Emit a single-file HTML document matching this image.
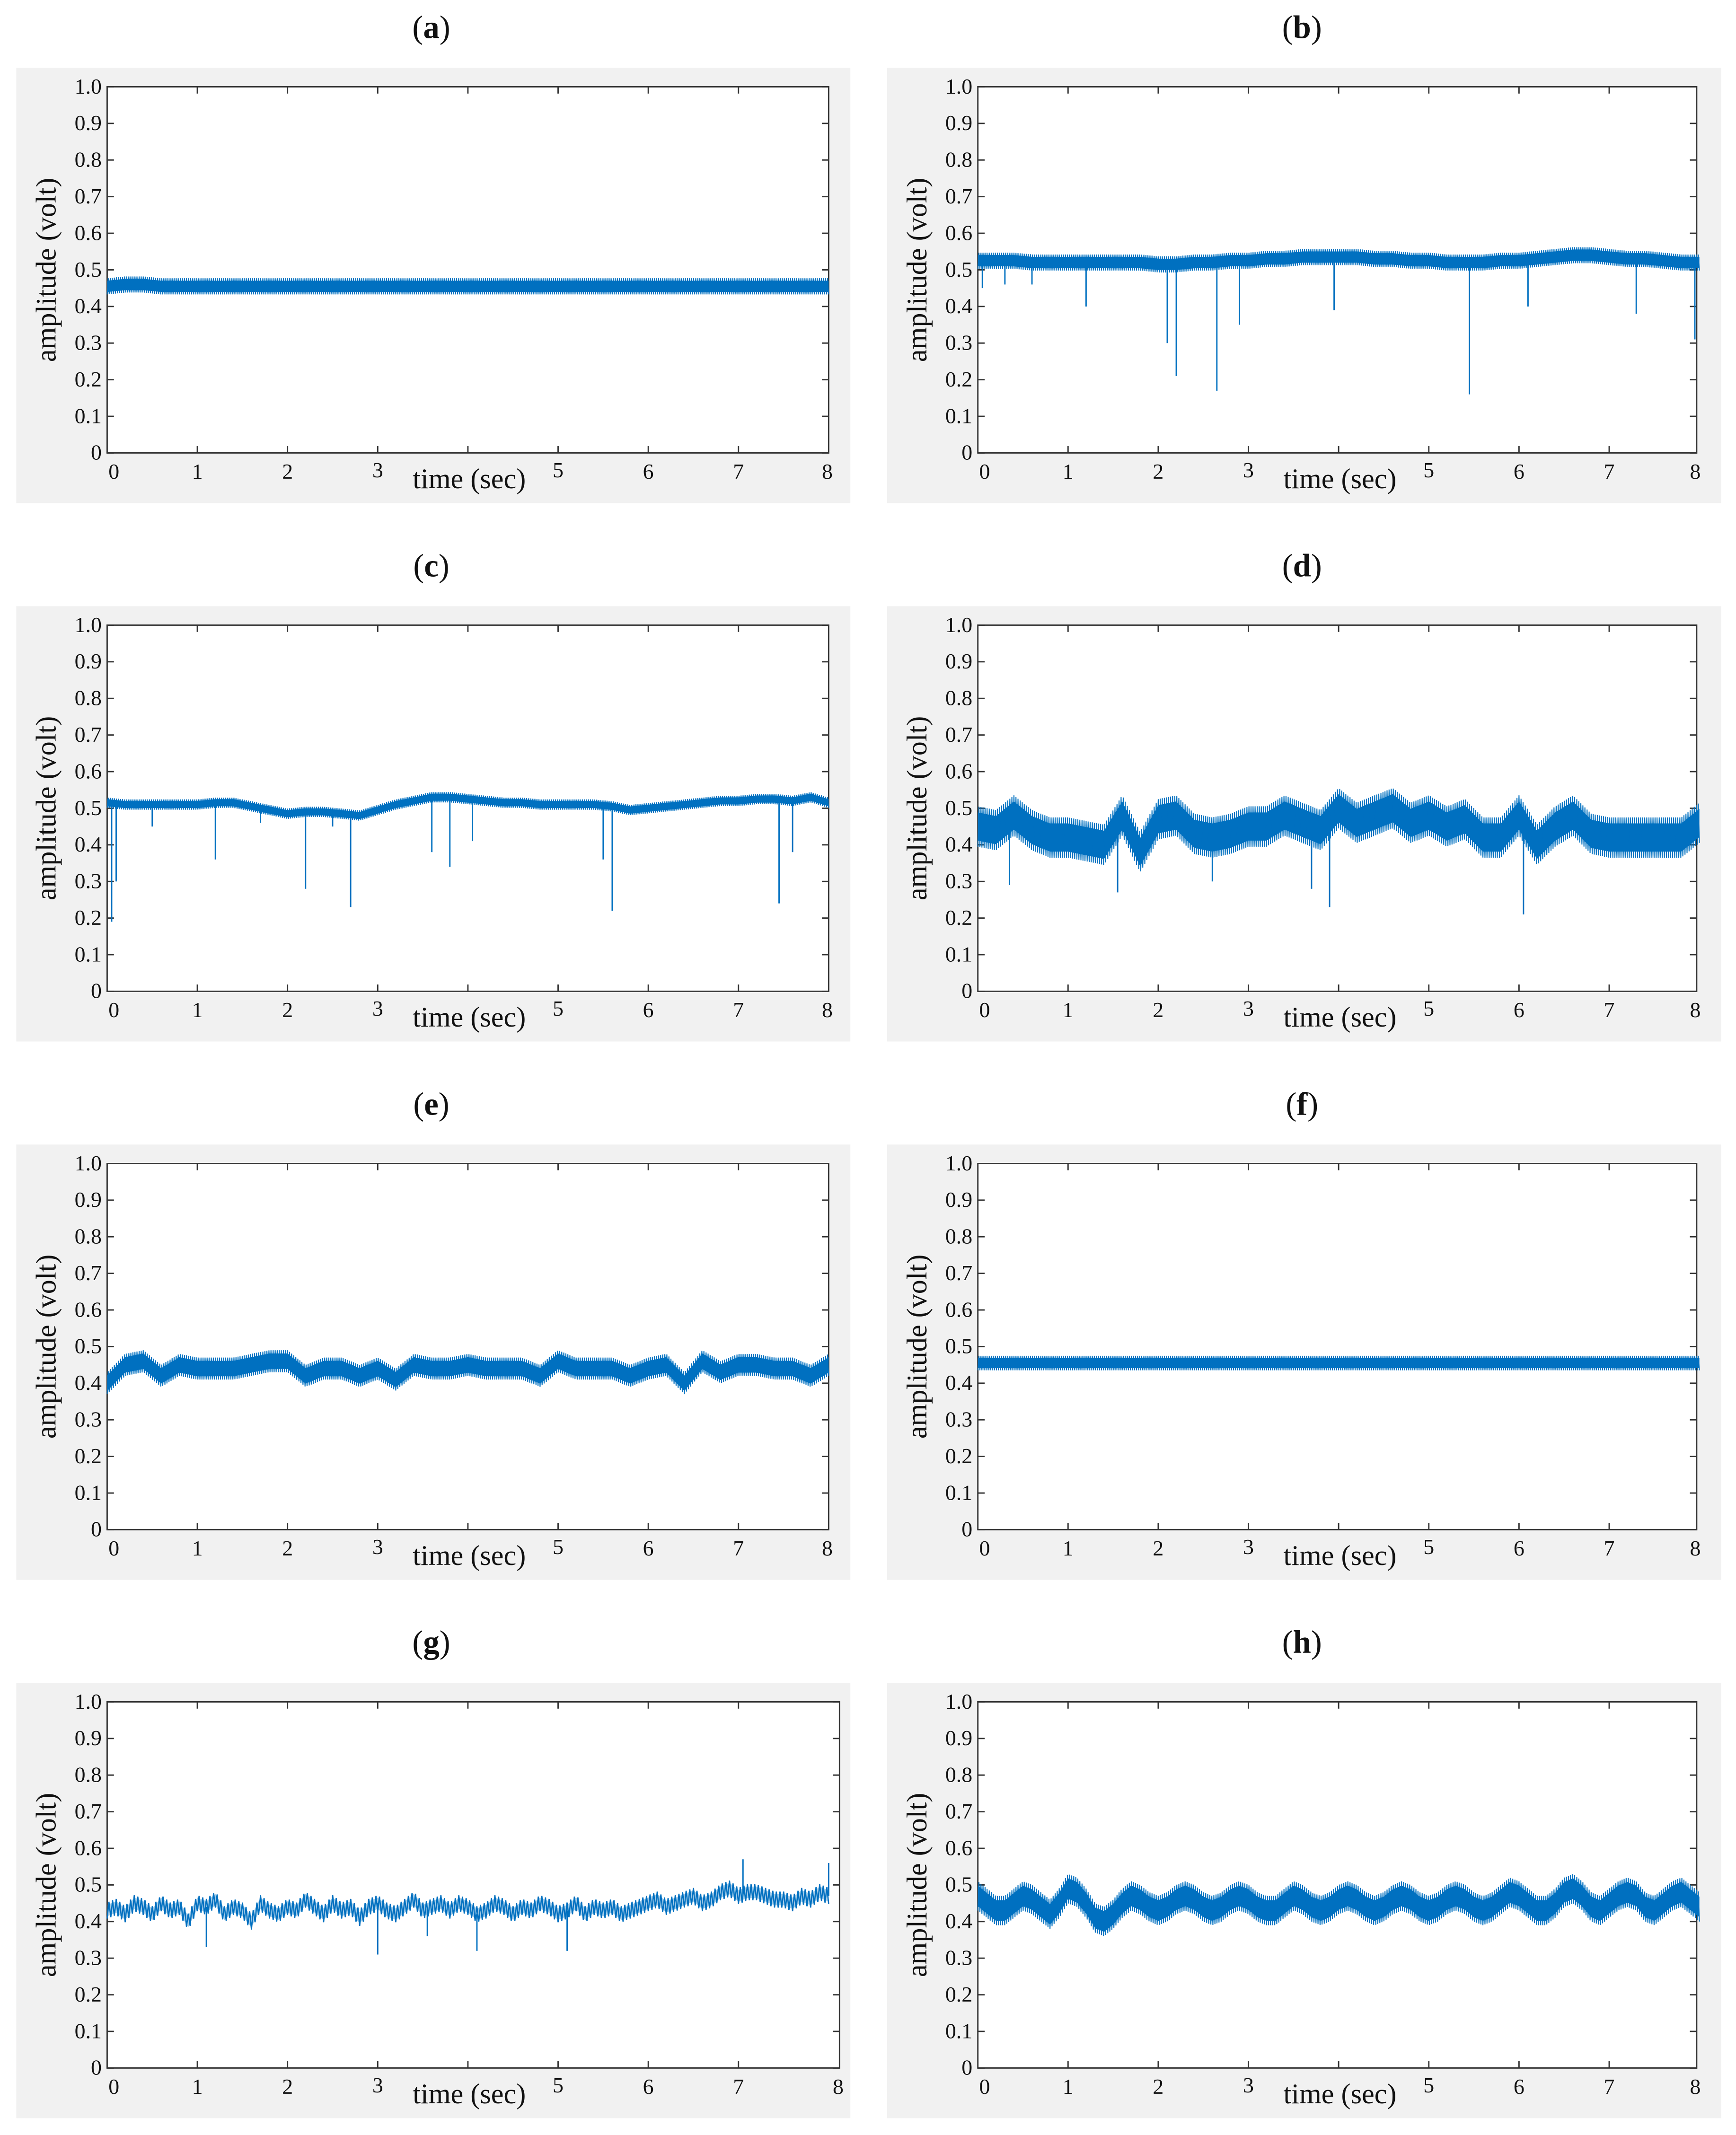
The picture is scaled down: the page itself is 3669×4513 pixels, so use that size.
<!DOCTYPE html>
<html><head><meta charset="utf-8">
<style>
html,body{margin:0;padding:0;background:#fff;}
svg{display:block;}
text{font-family:"Liberation Serif",serif;fill:#111;}
</style></head>
<body>
<svg id="fig" width="3669" height="4513" viewBox="0 0 1280 1574.4" preserveAspectRatio="none" xmlns="http://www.w3.org/2000/svg"></svg>
<script>
// ---- data ----
const panelLabels = ["a","b","c","d","e","f","g","h"];
const yTicks = [0,0.1,0.2,0.3,0.4,0.5,0.6,0.7,0.8,0.9,1.0];
const yTickLabels = ["0","0.1","0.2","0.3","0.4","0.5","0.6","0.7","0.8","0.9","1.0"];
const xTicks = [0,1,2,3,5,6,7,8];
const xTickLabels = ["0","1","2","3","5","6","7","8"];
// center values at 0.2 s steps (41 values)
const centerA = [0.455,0.46,0.46,0.455,0.455,0.455,0.455,0.455,0.455,0.455,0.455,0.455,0.455,0.455,0.455,0.455,0.455,0.455,0.455,0.455,0.455,0.455,0.455,0.455,0.455,0.455,0.455,0.455,0.455,0.455,0.455,0.455,0.455,0.455,0.455,0.455,0.455,0.455,0.455,0.455,0.455];
const halfA = 0.022;
const centerB = [0.525,0.525,0.525,0.52,0.52,0.52,0.52,0.52,0.52,0.52,0.515,0.515,0.52,0.52,0.525,0.525,0.53,0.53,0.535,0.535,0.535,0.535,0.53,0.53,0.525,0.525,0.52,0.52,0.52,0.525,0.525,0.53,0.535,0.54,0.54,0.535,0.53,0.53,0.525,0.52,0.52];
const halfB = 0.022;
const spikesBt = [0.05,0.3,0.6,1.2,2.1,2.2,2.65,2.9,3.95,5.45,6.1,7.3,7.95];
const spikesBv = [0.45,0.46,0.46,0.40,0.30,0.21,0.17,0.35,0.39,0.16,0.40,0.38,0.31];
const centerC = [0.515,0.51,0.51,0.51,0.51,0.51,0.515,0.515,0.505,0.495,0.485,0.49,0.49,0.485,0.48,0.495,0.51,0.52,0.53,0.53,0.525,0.52,0.515,0.515,0.51,0.51,0.51,0.51,0.505,0.495,0.5,0.505,0.51,0.515,0.52,0.52,0.525,0.525,0.52,0.53,0.515];
const halfC = 0.014;
const spikesCt = [0.05,0.1,0.5,1.2,1.7,2.2,2.5,2.7,3.6,3.8,4.05,5.5,5.6,7.45,7.6];
const spikesCv = [0.19,0.30,0.45,0.36,0.46,0.28,0.45,0.23,0.38,0.34,0.41,0.36,0.22,0.24,0.38];
const centerD = [0.45,0.44,0.48,0.44,0.42,0.42,0.41,0.40,0.48,0.38,0.47,0.48,0.43,0.42,0.43,0.45,0.45,0.48,0.46,0.44,0.50,0.46,0.48,0.50,0.46,0.48,0.45,0.47,0.42,0.42,0.48,0.40,0.45,0.48,0.43,0.42,0.42,0.42,0.42,0.42,0.46];
const halfD = 0.055;
const spikesDt = [0.35,1.55,2.6,3.7,3.9,6.05];
const spikesDv = [0.29,0.27,0.30,0.28,0.23,0.21];
const centerE = [0.40,0.45,0.46,0.42,0.45,0.44,0.44,0.44,0.45,0.46,0.46,0.42,0.44,0.44,0.42,0.44,0.41,0.45,0.44,0.44,0.45,0.44,0.44,0.44,0.42,0.46,0.44,0.44,0.44,0.42,0.44,0.45,0.40,0.46,0.43,0.45,0.45,0.44,0.44,0.42,0.45];
const halfE = 0.03;
const centerF = [0.455,0.455,0.455,0.455,0.455,0.455,0.455,0.455,0.455,0.455,0.455,0.455,0.455,0.455,0.455,0.455,0.455,0.455,0.455,0.455,0.455,0.455,0.455,0.455,0.455,0.455,0.455,0.455,0.455,0.455,0.455,0.455,0.455,0.455,0.455,0.455,0.455,0.455,0.455,0.455,0.455];
const halfF = 0.02;
const centerG = [0.43,0.44,0.42,0.45,0.44,0.42,0.45,0.43,0.44,0.40,0.45,0.44,0.46,0.42,0.44,0.43,0.40,0.45,0.43,0.42,0.44,0.43,0.46,0.44,0.42,0.45,0.43,0.44,0.41,0.44,0.45,0.43,0.42,0.44,0.46,0.43,0.44,0.45,0.43,0.45,0.44,0.42,0.43,0.45,0.44,0.42,0.44,0.43,0.45,0.44,0.42,0.43,0.45,0.42,0.44,0.43,0.44,0.42,0.43,0.44,0.45,0.46,0.44,0.45,0.46,0.47,0.45,0.46,0.48,0.49,0.47,0.48,0.48,0.47,0.46,0.46,0.45,0.47,0.46,0.48,0.47];
const halfG = 0.022;
const spikesGt = [1.1,3.0,3.55,4.1,5.1,7.05,8.0];
const spikesGv = [0.33,0.31,0.36,0.32,0.32,0.57,0.56];
const centerH = [0.47,0.45,0.43,0.43,0.45,0.47,0.46,0.44,0.42,0.45,0.49,0.48,0.45,0.41,0.40,0.42,0.45,0.47,0.46,0.44,0.43,0.44,0.46,0.47,0.46,0.44,0.43,0.44,0.46,0.47,0.46,0.44,0.43,0.43,0.45,0.47,0.46,0.44,0.43,0.44,0.46,0.47,0.46,0.44,0.43,0.44,0.46,0.47,0.46,0.44,0.43,0.44,0.46,0.47,0.46,0.44,0.43,0.44,0.46,0.48,0.47,0.45,0.43,0.43,0.45,0.48,0.49,0.47,0.44,0.43,0.45,0.47,0.48,0.47,0.44,0.43,0.45,0.47,0.48,0.46,0.44];
const halfH = 0.04;

const panels = [
 {c:centerA,h:halfA,st:[],sv:[],step:0.2},
 {c:centerB,h:halfB,st:spikesBt,sv:spikesBv,step:0.2},
 {c:centerC,h:halfC,st:spikesCt,sv:spikesCv,step:0.2},
 {c:centerD,h:halfD,st:spikesDt,sv:spikesDv,step:0.2},
 {c:centerE,h:halfE,st:[],sv:[],step:0.2},
 {c:centerF,h:halfF,st:[],sv:[],step:0.2},
 {c:centerG,h:halfG,st:spikesGt,sv:spikesGv,step:0.1,thin:true},
 {c:centerH,h:halfH,st:[],sv:[],step:0.1}
];
const colX = [12,654], rowY = [50,447,844,1241];
const plotL = [79,721], plotR = [611,1251];
const svg = document.getElementById('fig');
const NS = "http://www.w3.org/2000/svg";
function mk(tag, attrs, parent){const e=document.createElementNS(NS,tag);for(const k in attrs)e.setAttribute(k,attrs[k]);(parent||svg).appendChild(e);return e;}
const COLOR = "#0070c0";

panels.forEach((p,i)=>{
  const col=i%2,row=Math.floor(i/2);
  const gx=colX[col],gy=rowY[row];
  const L=plotL[col],R=(i==6)?619:plotR[col],T=gy+14,B=gy+284;
  const X=t=>L+t*66.5;
  const Y=v=>B-v*(B-T);
  const g=mk('g',{});
  
  
  const ttl=mk('text',{x:gx+306,y:gy-22,'font-size':24,'text-anchor':'middle'},g);
  
  
  ttl.innerHTML='(<tspan font-weight="bold">'+panelLabels[i]+'</tspan>)';
  const bg=mk('rect',{x:gx,y:gy,width:615,height:321,fill:'#f1f1f1'},g);
  
  
  const pa=mk('rect',{x:L,y:T,width:R-L,height:B-T,fill:'#fff',stroke:'#333','stroke-width':1},g);
  
  
  yTicks.forEach((v,k)=>{
    mk('line',{x1:L,x2:L+5,y1:Y(v),y2:Y(v),stroke:'#333','stroke-width':1},g);
    mk('line',{x1:R,x2:R-5,y1:Y(v),y2:Y(v),stroke:'#333','stroke-width':1},g);
    const tl=mk('text',{x:L-4,y:Y(v)+5,'font-size':16,'text-anchor':'end'},g);
    
    
    tl.textContent=yTickLabels[k];
  });
  for(let t=1;t<8;t++){
    mk('line',{x1:X(t),x2:X(t),y1:B,y2:B-5,stroke:'#333','stroke-width':1},g);
    mk('line',{x1:X(t),x2:X(t),y1:T,y2:T+5,stroke:'#333','stroke-width':1},g);
  }
  xTicks.forEach((t,k)=>{
    let x=X(t); if(t==0)x=L+5; if(t==8)x=R-1;
    const tl=mk('text',{x:x,y:B+(t==3||t==5?18:19),'font-size':16,'text-anchor':'middle'},g);
    
    
    tl.textContent=xTickLabels[k];
  });
  const xt=mk('text',{x:X(4)+1,y:B+26,'font-size':21,'text-anchor':'middle'},g);
  
  
  xt.textContent='time (sec)';
  const yt=mk('text',{x:0,y:0,'font-size':21,'text-anchor':'middle',transform:`translate(${gx+29},${(T+B)/2}) rotate(-90)`},g);
  
  
  yt.textContent='amplitude (volt)';
  const n=p.c.length;
  const interp=t=>{const f=t/p.step;const a=Math.min(n-1,Math.floor(f));const b=Math.min(n-1,a+1);const r=f-a;return p.c[a]*(1-r)+p.c[b]*r;};
  let up=[],lo=[];
  for(let k=0;k<n;k++){const t=k*p.step;up.push(X(t).toFixed(1)+','+Y(p.c[k]+p.h*0.7).toFixed(1));lo.unshift(X(t).toFixed(1)+','+Y(p.c[k]-p.h*0.7).toFixed(1));}
  const band=mk('polygon',{points:up.concat(lo).join(' '),fill:COLOR,opacity:p.thin?0.35:1},g);
  
  
  let zz=[];const M=p.thin?400:700;
  for(let k=0;k<=M;k++){const t=8*k/M;const s=(k%2?1:-1);zz.push(X(t).toFixed(1)+','+Y(interp(t)+s*p.h).toFixed(1));}
  const line=mk('polyline',{points:zz.join(' '),fill:'none',stroke:COLOR,'stroke-width':p.thin?0.9:0.7},g);
  
  
  p.st.forEach((t,k)=>{
    const sp=mk('line',{x1:X(t),x2:X(t),y1:Y(interp(t)),y2:Y(p.sv[k]),stroke:COLOR,'stroke-width':1},g);
    
    
  });
});
</script>
</body></html>
